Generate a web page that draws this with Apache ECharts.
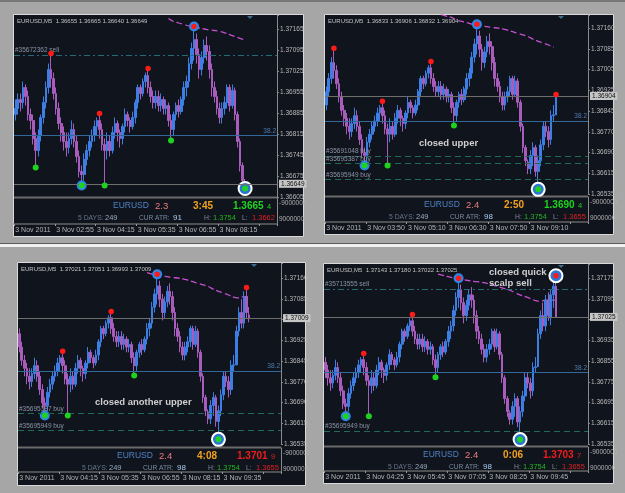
<!DOCTYPE html>
<html><head><meta charset="utf-8">
<script src="https://cdn.jsdelivr.net/npm/echarts@6/dist/echarts.min.js"></script>
<style>html,body{margin:0;padding:0;background:#a6a6a6}#c{width:625px;height:493px}</style>
</head><body><div id="c"></div>
<script>
// ---------- DATA (EURUSD M5, 3 Nov 2011, master bar index 0 = 01:35) ----------
const opens = [1.3688,1.3690,1.3693,1.3692,1.3697,1.3694,1.3688,1.3686,1.3680,1.3676,
1.3681,1.3687,1.3692,1.3697,1.3703,1.3700,1.3695,1.3690,1.3685,1.3682,
1.3679,1.3677,1.3680,1.3683,1.3679,1.3674,1.3669,1.3668,1.3673,1.3676,
1.3679,1.3681,1.3684,1.3686,1.3683,1.3678,1.3676,1.3679,1.3676,1.3682,
1.3685,1.3682,1.3680,1.3684,1.3688,1.3686,1.3684,1.3687,1.3692,1.3697,
1.3695,1.3699,1.3701,1.3697,1.3694,1.3692,1.3694,1.3691,1.3693,1.3690,
1.3691,1.3686,1.3683,1.3688,1.3691,1.3689,1.3693,1.3697,1.3699,1.3705,
1.3710,1.3713,1.3708,1.3703,1.3707,1.3711,1.3709,1.3703,1.3697,1.3694,
1.3690,1.3687,1.3690,1.3692,1.3697,1.3691,1.3696,1.3688,1.3679,1.3671,
1.36655,1.3663,1.3668,1.3671,1.3662,1.3666,1.3672,1.3679,1.3677,1.3674,
1.3683,1.36833,1.3696,1.3703,1.3699,1.3709,1.37021,1.3711,1.37143];
const closes = [1.3690,1.3693,1.3692,1.3697,1.3694,1.3688,1.3686,1.3680,1.3676,1.3681,
1.3687,1.3692,1.3697,1.3703,1.3700,1.3695,1.3690,1.3685,1.3682,1.3679,
1.3677,1.3680,1.3683,1.3679,1.3674,1.3669,1.3668,1.3673,1.3676,1.3679,
1.3681,1.3684,1.3686,1.3683,1.3678,1.3676,1.3679,1.3676,1.3682,1.3685,
1.3682,1.3680,1.3684,1.3688,1.3686,1.3684,1.3687,1.3692,1.3697,1.3695,
1.3699,1.3701,1.3697,1.3694,1.3692,1.3694,1.3691,1.3693,1.3690,1.3691,
1.3686,1.3683,1.3688,1.3691,1.3689,1.3693,1.3697,1.3699,1.3705,1.3710,
1.3713,1.3708,1.3703,1.3707,1.3711,1.3709,1.3703,1.3697,1.3694,1.3690,
1.3687,1.3690,1.3692,1.3697,1.3691,1.3696,1.3688,1.3679,1.3671,1.3666,
1.3663,1.3668,1.3671,1.3662,1.3666,1.3672,1.3679,1.3677,1.3674,1.3683,
1.36833,1.3696,1.3703,1.3699,1.3709,1.3703,1.3711,1.37143,1.37025];
const lows = [1.3686,1.3688,1.3689,1.3690,1.3691,1.3686,1.3683,1.3678,1.3671,1.3674,
1.3679,1.3685,1.3690,1.3695,1.3697,1.3693,1.3688,1.3683,1.3679,1.3676,
1.3674,1.3675,1.3678,1.3677,1.3672,1.3667,1.3665,1.3666,1.3671,1.3674,
1.3677,1.3679,1.3681,1.3680,1.3676,1.3665,1.3673,1.3674,1.3675,1.3680,
1.3679,1.3677,1.3678,1.3682,1.3684,1.3682,1.3683,1.3685,1.3690,1.3693,
1.3694,1.3697,1.3695,1.3692,1.3690,1.3690,1.3689,1.3689,1.3688,1.3688,
1.3684,1.3680,1.3681,1.3686,1.3687,1.3688,1.3691,1.3694,1.3697,1.3703,
1.3706,1.3705,1.3700,1.3701,1.3705,1.3706,1.3700,1.3694,1.3692,1.3688,
1.3685,1.3685,1.3688,1.3690,1.3689,1.3690,1.3686,1.3677,1.3669,1.3664,
1.3661,1.3661,1.3664,1.3660,1.3656,1.3664,1.3670,1.3675,1.3671,1.3672,
1.3681,1.36832,1.3694,1.3697,1.3697,1.3701,1.36993,1.3706,1.37022];
const highs = [1.3693,1.3695,1.3695,1.3699,1.3698,1.3696,1.3690,1.3688,1.3682,1.3683,
1.3688,1.3694,1.3699,1.3705,1.3708,1.3702,1.3697,1.3692,1.3687,1.3684,
1.3682,1.3682,1.3686,1.3685,1.3681,1.3676,1.3671,1.3675,1.3678,1.3681,
1.3683,1.3686,1.3687,1.3688,1.3685,1.3680,1.3682,1.3681,1.3684,1.3687,
1.3686,1.3683,1.3685,1.3690,1.3689,1.3687,1.3689,1.3693,1.3698,1.3698,
1.3700,1.3702,1.3703,1.3699,1.3696,1.3696,1.3696,1.3695,1.3694,1.3693,
1.3692,1.3688,1.3689,1.3692,1.3693,1.3694,1.3699,1.3701,1.3707,1.3712,
1.3717,1.3715,1.3710,1.3709,1.3713,1.3714,1.3711,1.3705,1.3699,1.3696,
1.3692,1.3692,1.3694,1.3698,1.3698,1.3698,1.3697,1.3689,1.3680,1.3672,
1.36665,1.3670,1.3673,1.3672,1.3668,1.3674,1.3681,1.3681,1.3679,1.3685,
1.3687,1.3698,1.3705,1.3708,1.3711,1.3712,1.3713,1.3716,1.37180];

// live bar of each screenshot: O, H, L, C (from the chart header)
const headerOHLC = [[1.36655,1.36665,1.36640,1.36649],[1.36833,1.36906,1.36832,1.36904],
                    [1.37021,1.37051,1.36993,1.37009],[1.37143,1.37180,1.37022,1.37025]];
const windowStart = [0, 11, 16, 18];   // first master bar shown in each screenshot
const barsShown = 91;
const slotCount = 103;

const priceTicks = [
  ['1.36605','1.36675','1.36745','1.36815','1.36885','1.36955','1.37025','1.37095','1.37165'],
  ['1.36535','1.36615','1.36690','1.36770','1.36845','1.36925','1.37005','1.37085','1.37160'],
  ['1.36535','1.36615','1.36690','1.36770','1.36845','1.36925','1.37005','1.37085','1.37160'],
  ['1.36535','1.36615','1.36695','1.36775','1.36855','1.36935','1.37015','1.37095','1.37175']];
const timeLabels = [
  ['3 Nov 2011','3 Nov 02:55','3 Nov 04:15','3 Nov 05:35','3 Nov 06:55','3 Nov 08:15'],
  ['3 Nov 2011','3 Nov 03:50','3 Nov 05:10','3 Nov 06:30','3 Nov 07:50','3 Nov 09:10'],
  ['3 Nov 2011','3 Nov 04:15','3 Nov 05:35','3 Nov 06:55','3 Nov 08:15','3 Nov 09:35'],
  ['3 Nov 2011','3 Nov 04:25','3 Nov 05:45','3 Nov 07:05','3 Nov 08:25','3 Nov 09:45']];

// fractal markers (master bar indices)
const highMarks = [[14,33,52,70],[14,33,52,70,101],[33,52,70,105],[33,52,70,108]];
const lowMarks  = [[8,26,35,61,90],[26,35,61,94],[26,35,61,94],[26,35,61,94]];
const entryHighs = [70], entryLows = [26];                       // blue discs
const exitHighs = [[],[],[],[108]], exitLows = [[90],[94],[94],[94]]; // white rings

// descending trend curve (master index, price)
const trendIdx = [56,58,60,62,64,66,68,70,72,74,76,78,80,82,84,86,88,90,92,94,96,98,100,102,104,106,108];
const trendVal = [1.3721,1.37205,1.3720,1.3719,1.37185,1.3718,1.37175,1.3717,1.37168,1.37165,1.37162,1.3716,1.37157,
                  1.37152,1.37146,1.3714,1.37134,1.37128,1.37118,1.3711,1.37103,1.37096,1.37088,1.37085,1.3709,1.3709,1.3709];
const trendStart = [60, 56, 66, 62];

const fibLevel = 1.3681, fibLabel = '38.2';
const orderPrices = [[1.37078],[1.36679,1.36649,1.36589],[1.36649,1.36585],[1.37133,1.36585]];
const orderLabels = [['#35672362 sell'],['#35691048 buy','#35695387 buy','#35695949 buy'],
                     ['#35695387 buy','#35695949 buy'],['#35713555 sell','#35695949 buy']];
const annotations = [[],['closed upper'],['closed another upper'],['closed quick','scalp sell']];

const infoSymbol = 'EURUSD';
const spreads = ['2.3','2.4','2.4','2.4'];
const timers = ['3:45','2:50','4:08','0:06'];
const bidMain = ['1.3665','1.3690','1.3701','1.3703'];
const bidLast = ['4','4','9','7'];
const bidUp = [true, true, false, false];
const days5 = '249';
const atrs = ['91','98','98','98'];
const dayHigh = '1.3754';
const dayLows = ['1.3662','1.3655','1.3655','1.3655'];
const subScale = ['-9000000','9000000'];

// ---------- LAYOUT ----------
const FONT = "'Liberation Sans', Arial, sans-serif";
const layout = [
 {px:13, py:14, pw:290, ph:222, x0:14, x1:277, yTop:15, yMin:197, iTop:198, iBot:224},
 {px:324,py:14, pw:289, ph:220, x0:325,x1:588, yTop:15, yMin:194, iTop:197, iBot:222},
 {px:17, py:262,pw:288, ph:223, x0:18, x1:281, yTop:263,yMin:444, iTop:448, iBot:472},
 {px:323,py:263,pw:290, ph:220, x0:324,x1:588, yTop:264,yMin:444, iTop:447, iBot:471}];
const yScale = [
 {min:1.36605, interval:0.0007, pxPerTick:21},
 {min:1.36535, interval:0.00078125, pxPerTick:20.75},
 {min:1.36535, interval:0.00078125, pxPerTick:20.75},
 {min:1.36535, interval:0.0008, pxPerTick:20.75}];
const annoPos = [[],[[419,143]],[[95,402]],[[489,272],[489,283]]];

function barOf(p, m) {
  if (m === windowStart[p] + barsShown - 1) { const h = headerOHLC[p]; return {o:h[0], h:h[1], l:h[2], c:h[3]}; }
  return {o:opens[m], c:closes[m], l:lows[m], h:highs[m]};
}

const grids = [], xAxes = [], yAxes = [], series = [], graphics = [];
graphics.push({type:'rect', shape:{x:0,y:0,width:625,height:2}, style:{fill:'#787878'}, z:-2});
graphics.push({type:'rect', shape:{x:0,y:243,width:625,height:1}, style:{fill:'#5c5c5c'}, z:-2});
graphics.push({type:'rect', shape:{x:0,y:244,width:625,height:3}, style:{fill:'#f0f0f0'}, z:-2});

const slotCats = Array.from({length:slotCount}, (_, i) => String(i));

for (let p = 0; p < 4; p++) {
  const g = layout[p], s = yScale[p];
  const start = windowStart[p], last = start + barsShown - 1;
  const lastClose = headerOHLC[p][3];
  const max = s.min + (g.yMin - g.yTop) / s.pxPerTick * s.interval;

  grids.push({left:g.x0, top:g.yTop, width:g.x1-g.x0, height:g.yMin-g.yTop});
  grids.push({left:g.x0, top:g.iTop, width:g.x1-g.x0, height:g.iBot-g.iTop});

  const tcats = slotCats.map((_, i) => (i % 16 === 0 && timeLabels[p][i/16]) ? timeLabels[p][i/16] : '');
  xAxes.push({type:'category', gridIndex:2*p, data:slotCats, boundaryGap:true,
    axisLine:{show:false}, axisTick:{show:false}, axisLabel:{show:false}, splitLine:{show:false}});
  xAxes.push({type:'category', gridIndex:2*p+1, data:tcats, boundaryGap:true, position:'bottom',
    axisLine:{show:true, lineStyle:{color:'#646464', width:1.5}},
    axisTick:{show:true, interval:15, length:2, lineStyle:{color:'#9a9a9a'}},
    axisLabel:{show:true, interval:15, align:'left', color:'#b4b4b4', fontSize:7, fontFamily:FONT, margin:3}});

  yAxes.push({type:'value', gridIndex:2*p, position:'right', min:s.min, max:max, interval:s.interval,
    axisLine:{show:true, lineStyle:{color:'#8a8a8a'}},
    axisTick:{show:true, length:2, lineStyle:{color:'#8a8a8a'}},
    splitLine:{show:false}, showMaxLabel:false,
    axisLabel:{show:true, color:'#b8b8b8', fontSize:6.5, fontFamily:FONT, margin:3,
      formatter:(v, i) => { const t = priceTicks[p][i]; if (t === undefined) return '';
        if (Math.abs(v - lastClose) < s.interval * 0.25) return ''; return t; }}});
  yAxes.push({type:'value', gridIndex:2*p+1, position:'right', min:0, max:1,
    axisLine:{show:true, lineStyle:{color:'#8a8a8a'}}, axisTick:{show:false}, axisLabel:{show:false}, splitLine:{show:false}});

  const candles = [];
  for (let m = start; m <= last; m++) { const b = barOf(p, m); candles.push([b.o, b.c, b.l, b.h]); }

  const ml = [
    {yAxis:lastClose, lineStyle:{color:'#6e6e6e', type:'solid', width:1},
     label:{show:true, position:'end', distance:2, formatter:lastClose.toFixed(5), backgroundColor:'#c6c6c6',
            color:'#111', fontSize:6.5, fontFamily:FONT, padding:[1,2,0,2]}},
    {yAxis:fibLevel, lineStyle:{color:'#35689a', type:'solid', width:1},
     label:{show:true, position:'insideEndTop', distance:1, formatter:fibLabel, color:'#4b7db0', fontSize:6.5, fontFamily:FONT}}];
  orderPrices[p].forEach((v, k) => {
    const sell = orderLabels[p][k].indexOf('sell') >= 0;
    ml.push({yAxis:v, lineStyle:{color: sell ? '#246a78' : '#226a58', type: sell ? [6,3,2,3] : [6,4], width:1},
      label:{show:true, position:'insideStartTop', distance:1, formatter:orderLabels[p][k], color:'#8a93a6', fontSize:6.5, fontFamily:FONT}});
  });

  series.push({type:'candlestick', xAxisIndex:2*p, yAxisIndex:2*p, data:candles, barWidth:2.2, z:3,
    itemStyle:{color:'#3d7ee4', color0:'#a85cbc', borderColor:'#3d7ee4', borderColor0:'#a85cbc', borderWidth:1}});

  const trend = [];
  trendIdx.forEach((m, k) => { if (m >= trendStart[p] && m <= last) trend.push([m - start, trendVal[k]]); });
  series.push({type:'line', xAxisIndex:2*p, yAxisIndex:2*p, data:trend, showSymbol:false, smooth:true, z:2,
    lineStyle:{color:'#c64fd0', width:1.3, type:[6,3]},
    markLine:{silent:true, precision:5, symbol:['none','none'], animation:false, data:ml}});

  const pt = (m, side, off) => { const b = barOf(p, m); return {value:[m - start, side === 'h' ? b.h : b.l], symbolOffset:[0, side === 'h' ? -off : off]}; };
  const inWin = m => m >= start && m <= last;
  series.push({type:'scatter', xAxisIndex:2*p, yAxisIndex:2*p, clip:false, z:4, symbol:'circle', symbolSize:13,
    itemStyle:{color:'#2a74d6', borderColor:'#ffffff', borderWidth:2, opacity:1},
    data:[...exitHighs[p].filter(inWin).map(m => pt(m,'h',1)), ...exitLows[p].filter(inWin).map(m => pt(m,'l',2))]});
  series.push({type:'scatter', xAxisIndex:2*p, yAxisIndex:2*p, clip:false, z:4, symbol:'circle', symbolSize:10,
    itemStyle:{color:'#2e86e6', opacity:1},
    data:[...entryHighs.filter(inWin).map(m => pt(m,'h',1)), ...entryLows.filter(inWin).map(m => pt(m,'l',2))]});
  series.push({type:'scatter', xAxisIndex:2*p, yAxisIndex:2*p, clip:false, z:5, symbol:'circle', symbolSize:5.5,
    itemStyle:{color:'#ff1a1a', opacity:1}, data:highMarks[p].filter(inWin).map(m => pt(m,'h',1))});
  series.push({type:'scatter', xAxisIndex:2*p, yAxisIndex:2*p, clip:false, z:5, symbol:'circle', symbolSize:6,
    itemStyle:{color:'#1fd21f', opacity:1}, data:lowMarks[p].filter(inWin).map(m => pt(m,'l',2))});
  series.push({type:'line', xAxisIndex:2*p+1, yAxisIndex:2*p+1, data:[], showSymbol:false});

  // panel chrome
  graphics.push({type:'rect', shape:{x:g.px+0.5, y:g.py+0.5, width:g.pw, height:g.ph},
    style:{fill:'#10141d', stroke:'#d8d8d8', lineWidth:1}, z:-1});
  graphics.push({type:'rect', shape:{x:g.x0, y:g.iTop-1.5, width:g.x1-g.x0, height:2}, style:{fill:'#6a6a6a'}, z:1});
  graphics.push({type:'polygon', shape:{points:[[g.x1-30,g.yTop+1],[g.x1-24,g.yTop+1],[g.x1-27,g.yTop+4]]}, style:{fill:'#3f6d90'}, z:1});
  graphics.push({type:'text', x:g.px+4, y:g.py+7.5, z:10,
    style:{text:'EURUSD,M5  ' + headerOHLC[p].map(v => v.toFixed(5)).join(' '), fill:'#c2c2c2',
           font:'6px ' + FONT, textVerticalAlign:'middle'}});
  graphics.push({type:'text', x:g.x1+2, y:g.iTop+5, z:10, style:{text:subScale[0], fill:'#b0b0b0', font:'6.5px '+FONT, textVerticalAlign:'middle'}});
  graphics.push({type:'text', x:g.x1+2, y:g.iTop+21, z:10, style:{text:subScale[1], fill:'#b0b0b0', font:'6.5px '+FONT, textVerticalAlign:'middle'}});

  const y1 = g.iTop + 8, y2 = g.iTop + 20, bc = bidUp[p] ? '#1fd41f' : '#f01c1c';
  const items = [
    [infoSymbol, 100, y1, '#4f82c4', 'normal', 8.5], [spreads[p], 142, y1, '#ef7b7b', 'normal', 9.5],
    [timers[p], 180, y1, '#f2a11f', 'bold', 10], [bidMain[p], 220, y1, bc, 'bold', 10],
    [bidLast[p], 254, y1+1, bc, 'normal', 7.5],
    ['5 DAYS:', 65, y2, '#66758c', 'normal', 6.8], [days5, 92, y2, '#9aabbf', 'normal', 7.5],
    ['CUR ATR:', 126, y2, '#7b8aa0', 'normal', 6.6], [atrs[p], 160, y2, '#a8cff5', 'normal', 8],
    ['H:', 191, y2, '#7f8a9a', 'normal', 6.8], [dayHigh, 200, y2, '#22b422', 'normal', 7.5],
    ['L:', 229, y2, '#7f8a9a', 'normal', 6.8], [dayLows[p], 239, y2, '#e02020', 'normal', 7.5]];
  items.forEach(it => graphics.push({type:'text', x:g.px+it[1], y:it[2], z:10,
    style:{text:it[0], fill:it[3], font:it[4] + ' ' + it[5] + 'px ' + FONT, textVerticalAlign:'middle'}}));

  annotations[p].forEach((t, k) => graphics.push({type:'text', x:annoPos[p][k][0], y:annoPos[p][k][1], z:10,
    style:{text:t, fill:'#cfcfcf', font:'bold 9.5px ' + FONT, textVerticalAlign:'middle'}}));
}

const chart = echarts.init(document.getElementById('c'), null, {renderer:'canvas', width:625, height:493});
chart.setOption({
  animation:false, backgroundColor:'#a6a6a6', textStyle:{fontFamily:FONT},
  grid:grids, xAxis:xAxes, yAxis:yAxes, series:series, graphic:graphics
});
</script></body></html>
